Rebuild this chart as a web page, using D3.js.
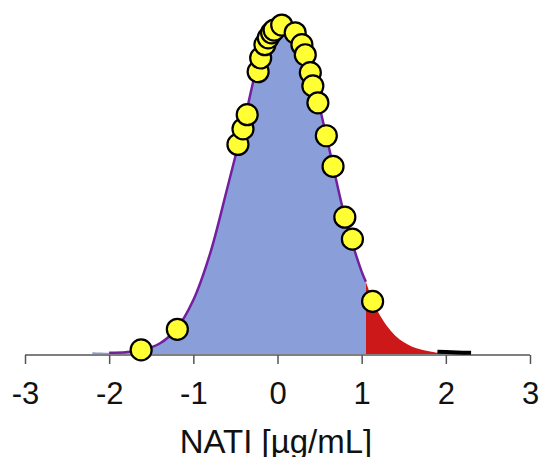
<!DOCTYPE html>
<html>
<head>
<meta charset="utf-8">
<script src="https://cdn.jsdelivr.net/npm/d3@7"></script>
<style>
  body { margin: 0; background: #fff; }
  text { font-family: "Liberation Sans", Arial, sans-serif; fill: #111; }
</style>
</head>
<body>
<div class="chart"></div>
<script>
// density curve
const densX = [-2.2, -2.0, -1.8, -1.6, -1.4, -1.2, -1.0, -0.8, -0.6, -0.4, -0.2, 0.0, 0.1, 0.2, 0.4, 0.6, 0.8, 1.0, 1.05, 1.2, 1.4, 1.6, 1.8, 1.9, 2.0, 2.2, 2.3];
const densY = [0.004, 0.003, 0.004, 0.009, 0.023, 0.055, 0.118, 0.22, 0.36, 0.505, 0.652, 0.719, 0.724, 0.702, 0.61, 0.46, 0.30, 0.18, 0.158, 0.09, 0.04, 0.016, 0.006, 0.003, 0.002, 0.0006, 0.0003];

// observed values (yellow dots)
const obsX = [-1.62, -1.19, -0.47, -0.41, -0.36, -0.23, -0.20, -0.15, -0.11, -0.07, -0.04, 0.05, 0.21, 0.29, 0.33, 0.39, 0.42, 0.48, 0.58, 0.66, 0.80, 0.89, 1.13];
const obsY = [0.009, 0.054, 0.458, 0.492, 0.523, 0.617, 0.647, 0.676, 0.691, 0.702, 0.708, 0.719, 0.702, 0.676, 0.654, 0.615, 0.586, 0.549, 0.477, 0.410, 0.299, 0.251, 0.115];

const xTicks = [-3, -2, -1, 0, 1, 2, 3];
const cutoff = 1.05;
const xLabel = "NATI [µg/mL]";

const width = 539, height = 457;

const svg = d3.select(".chart")
    .append("svg")
    .attr("width", width)
    .attr("height", height);

let xScale = d3.scaleLinear()
    .domain([-3, 3])
    .range([25, 530]);

let yScale = d3.scaleLinear()
    .domain([0, 0.73])
    .range([354, 20]);

const dens = densX.map((x, i) => ({x: x, y: densY[i]}));
const left = dens.filter(d => d.x <= cutoff);
const right = dens.filter(d => d.x >= cutoff);

let area = d3.area()
    .x(d => xScale(d.x))
    .y0(yScale(0))
    .y1(d => yScale(d.y))
    .curve(d3.curveCatmullRom);

let line = d3.line()
    .x(d => xScale(d.x))
    .y(d => yScale(d.y))
    .curve(d3.curveCatmullRom);

svg.append("path")
    .datum(left)
    .attr("d", area)
    .attr("fill", "#8a9fd9");

svg.append("path")
    .datum(right)
    .attr("d", area)
    .attr("fill", "#cc1818");

svg.append("path")
    .datum(left.filter(d => d.x > -2.1))
    .attr("d", line)
    .attr("fill", "none")
    .attr("stroke", "#72209e")
    .attr("stroke-width", 2.5);

// axis
let xAxis = d3.axisBottom(xScale)
    .tickValues(xTicks)
    .tickSize(9)
    .tickPadding(18)
    .tickFormat(d3.format("d"));

const gx = svg.append("g")
    .attr("class", "axis x-axis")
    .attr("transform", "translate(0, 355)")
    .call(xAxis);

gx.select(".domain")
    .attr("stroke", "#555")
    .attr("stroke-width", 1.5)
    .attr("d", "M" + xScale(-3) + ",0H" + xScale(3));
gx.selectAll(".tick line").attr("stroke", "#555").attr("stroke-width", 1.5);
gx.selectAll(".tick text")
    .attr("font-size", 31)
    .attr("font-family", "Liberation Sans, Arial, sans-serif")
    .attr("fill", "#111")
    .text(d => d < 0 ? "-" + Math.abs(d) : d);

// black tail line
svg.append("path")
    .datum(dens.filter(d => d.x >= 1.9))
    .attr("d", d3.line().x(d => xScale(d.x)).y(d => yScale(d.y) - 1))
    .attr("fill", "none")
    .attr("stroke", "#000")
    .attr("stroke-width", 4);

// points
const obs = obsX.map((x, i) => ({x: x, y: obsY[i]}));
svg.selectAll("circle.obs")
    .data(obs)
    .enter()
    .append("circle")
    .attr("class", "obs")
    .attr("cx", d => xScale(d.x))
    .attr("cy", d => yScale(d.y))
    .attr("r", 10.5)
    .attr("fill", "#ffff33")
    .attr("stroke", "#000")
    .attr("stroke-width", 2.2);

svg.append("text")
    .attr("x", 276)
    .attr("y", 453)
    .attr("text-anchor", "middle")
    .attr("font-size", 33)
    .text(xLabel);
</script>
</body>
</html>
